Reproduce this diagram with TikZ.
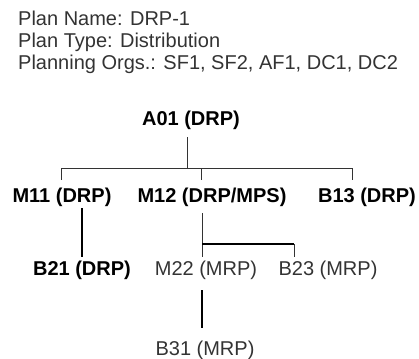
\documentclass[tikz,border=0pt]{standalone}
\usepackage{fontspec}
\setmainfont{Liberation Sans}
\begin{document}
\begin{tikzpicture}[x=1pt, y=-1pt,
        every node/.style = {inner sep=0pt, anchor=base,
            font=\fontsize{20}{22}\selectfont},
        heading/.style = {anchor=base west, text=black!80},
        drp/.style = {font=\fontsize{20}{22}\selectfont\bfseries},
        mrp/.style = {text=black!80},
        link/.style = {draw=black!80, line width=1pt},
        heavy/.style = {draw=black, line width=2pt}]
    \useasboundingbox (0,0) rectangle (419,358);
    \node[heading] (name) at (18,26) {Plan Name: DRP-1};
    \node[heading] (type) at (18,48) {Plan Type: Distribution};
    \node[heading] (orgs) at (18,70) {Planning Orgs.: SF1, SF2, AF1, DC1, DC2};

    \node[drp] (a01) at (191,125) {A01 (DRP)};
    \node[drp] (m11) at (62,202) {M11 (DRP)};
    \node[drp] (m12) at (212,202) {M12 (DRP/MPS)};
    \node[drp] (b13) at (367,202) {B13 (DRP)};
    \node[drp] (b21) at (82,275) {B21 (DRP)};
    \node[mrp] (m22) at (206,275) {M22 (MRP)};
    \node[mrp] (b23) at (328,275) {B23 (MRP)};
    \node[mrp] (b31) at (205,355) {B31 (MRP)};

    % org bus under A01
    \coordinate (bus) at (187,168);
    \draw[link] ([yshift=-8pt]a01.south -| bus) -- (bus);
    \draw[link] (bus) -| ([xshift=-1pt,yshift=7pt]m11.north);
    \draw[link] (bus) -| ([xshift=-11pt,yshift=7pt]m12.north);
    \draw[link] (bus) -| ([xshift=-15pt,yshift=7pt]b13.north);

    \draw[heavy] ([yshift=-2pt]b21.north |- m11.south) -- ([yshift=3pt]b21.north);

    % M12 fork
    \draw[link] ([xshift=-4pt]m22.north |- m12.south) ++(0,7) -- ([xshift=-4pt,yshift=3pt]m22.north);
    \draw[heavy] ([xshift=-4pt,yshift=16pt]m22.north) -- ([xshift=-34pt,yshift=16pt]b23.north);
    \draw[link] ([xshift=-34pt,yshift=16pt]b23.north) -- ([xshift=-34pt,yshift=3pt]b23.north);

    \draw[heavy] ([xshift=-4pt,yshift=-11pt]m22.south) -- ([xshift=-3pt,yshift=12pt]b31.north);
\end{tikzpicture}
\end{document}
